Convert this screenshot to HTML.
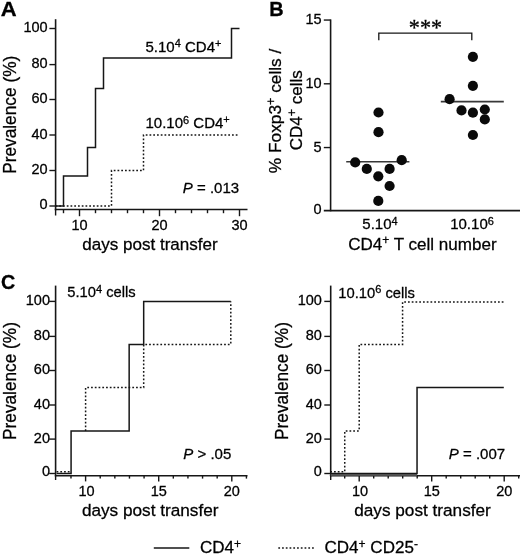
<!DOCTYPE html>
<html lang="en">
<head>
<meta charset="utf-8">
<title>Figure</title>
<style>
html,body{margin:0;padding:0;background:#fff;}
svg{display:block;filter:blur(0.35px);}
svg text{font-family:"Liberation Sans",sans-serif;fill:#000;stroke:#000;stroke-width:0.28px;white-space:pre;}
</style>
</head>
<body>
<svg width="520" height="555" viewBox="0 0 520 555" shape-rendering="auto">
<rect x="0" y="0" width="520" height="555" fill="#ffffff"/>
<text x="0" y="0" font-size="20" text-anchor="start" font-weight="bold" transform="translate(0.8,15.6) scale(1.1,1)">A</text>
<line x1="55.6" y1="19.2" x2="55.6" y2="210.2" stroke="#161616" stroke-width="1.6" />
<line x1="49.4" y1="206.0" x2="55.6" y2="206.0" stroke="#161616" stroke-width="1.4" />
<text x="47.6" y="208.6" font-size="14.5" text-anchor="end" >0</text>
<line x1="49.4" y1="170.5" x2="55.6" y2="170.5" stroke="#161616" stroke-width="1.4" />
<text x="47.6" y="174.0" font-size="14.5" text-anchor="end" >20</text>
<line x1="49.4" y1="135.0" x2="55.6" y2="135.0" stroke="#161616" stroke-width="1.4" />
<text x="47.6" y="138.5" font-size="14.5" text-anchor="end" >40</text>
<line x1="49.4" y1="99.5" x2="55.6" y2="99.5" stroke="#161616" stroke-width="1.4" />
<text x="47.6" y="103.0" font-size="14.5" text-anchor="end" >60</text>
<line x1="49.4" y1="64.6" x2="55.6" y2="64.6" stroke="#161616" stroke-width="1.4" />
<text x="47.6" y="68.1" font-size="14.5" text-anchor="end" >80</text>
<line x1="49.4" y1="28.5" x2="55.6" y2="28.5" stroke="#161616" stroke-width="1.4" />
<text x="47.6" y="32.0" font-size="14.5" text-anchor="end" >100</text>
<line x1="54.800000000000004" y1="209.5" x2="247.5" y2="209.5" stroke="#161616" stroke-width="1.6" />
<line x1="55.6" y1="209.5" x2="55.6" y2="215.5" stroke="#161616" stroke-width="1.4" />
<line x1="63.5" y1="209.5" x2="63.5" y2="213.2" stroke="#161616" stroke-width="1.4" />
<line x1="79.5" y1="209.5" x2="79.5" y2="216.2" stroke="#161616" stroke-width="1.4" />
<line x1="95.5" y1="209.5" x2="95.5" y2="213.2" stroke="#161616" stroke-width="1.4" />
<line x1="111.5" y1="209.5" x2="111.5" y2="213.2" stroke="#161616" stroke-width="1.4" />
<line x1="127.5" y1="209.5" x2="127.5" y2="213.2" stroke="#161616" stroke-width="1.4" />
<line x1="143.5" y1="209.5" x2="143.5" y2="213.2" stroke="#161616" stroke-width="1.4" />
<line x1="159.5" y1="209.5" x2="159.5" y2="216.2" stroke="#161616" stroke-width="1.4" />
<line x1="175.5" y1="209.5" x2="175.5" y2="213.2" stroke="#161616" stroke-width="1.4" />
<line x1="191.5" y1="209.5" x2="191.5" y2="213.2" stroke="#161616" stroke-width="1.4" />
<line x1="207.5" y1="209.5" x2="207.5" y2="213.2" stroke="#161616" stroke-width="1.4" />
<line x1="223.5" y1="209.5" x2="223.5" y2="213.2" stroke="#161616" stroke-width="1.4" />
<line x1="239.5" y1="209.5" x2="239.5" y2="216.2" stroke="#161616" stroke-width="1.4" />
<text x="79.5" y="229.9" font-size="14.5" text-anchor="middle" >10</text>
<text x="159.5" y="229.9" font-size="14.5" text-anchor="middle" >20</text>
<text x="239.5" y="229.9" font-size="14.5" text-anchor="middle" >30</text>
<text x="150.0" y="249.9" font-size="17.05" text-anchor="middle" >days post transfer</text>
<text x="0" y="0" font-size="17.3" text-anchor="middle" transform="translate(15.5,114.8) scale(1.05,1) rotate(-90)">Prevalence (%)</text>
<path d="M55.50 206.00 L63.50 206.00 L63.50 176.00 L87.50 176.00 L87.50 147.40 L95.50 147.40 L95.50 88.50 L103.50 88.50 L103.50 58.00 L231.50 58.00 L231.50 28.50 L239.50 28.50" fill="none" stroke="#161616" stroke-width="1.5" stroke-linejoin="miter" />
<path d="M55.50 206.00 L111.50 206.00 L111.50 170.50 L143.50 170.50 L143.50 135.00 L237.90 135.00" fill="none" stroke="#161616" stroke-width="1.5" stroke-linejoin="miter" stroke-dasharray="1.75 2.0"/>
<text x="145.5" y="51.8" font-size="15" text-anchor="start" >5.10<tspan font-size="11" dy="-4.5">4</tspan><tspan dy="4.5"> CD4</tspan><tspan font-size="11" dy="-5.3">+</tspan></text>
<text x="145.5" y="128.3" font-size="15" text-anchor="start" >10.10<tspan font-size="11" dy="-4.5">6</tspan><tspan dy="4.5"> CD4</tspan><tspan font-size="11" dy="-5.3">+</tspan></text>
<text x="182.8" y="192.5" font-size="15" text-anchor="start" ><tspan font-style="italic">P</tspan> = .013</text>
<text x="0" y="0" font-size="19.9" text-anchor="start" font-weight="bold" transform="translate(269.3,16.2) scale(1.0,1)">B</text>
<line x1="330.6" y1="19.4" x2="330.6" y2="211.3" stroke="#161616" stroke-width="1.6" />
<line x1="323.8" y1="210.6" x2="520" y2="210.6" stroke="#161616" stroke-width="1.6" />
<line x1="323.8" y1="147.55" x2="330.6" y2="147.55" stroke="#161616" stroke-width="1.4" />
<line x1="323.8" y1="83.80000000000001" x2="330.6" y2="83.80000000000001" stroke="#161616" stroke-width="1.4" />
<line x1="323.8" y1="20.05000000000001" x2="330.6" y2="20.05000000000001" stroke="#161616" stroke-width="1.4" />
<text x="321.6" y="214.4" font-size="14.5" text-anchor="end" >0</text>
<text x="321.6" y="151.65" font-size="14.5" text-anchor="end" >5</text>
<text x="321.6" y="87.9" font-size="14.5" text-anchor="end" >10</text>
<text x="321.6" y="24.150000000000013" font-size="14.5" text-anchor="end" >15</text>
<path d="M378.80 40.30 L378.80 33.10 L471.80 33.10 L471.80 40.30" fill="none" stroke="#161616" stroke-width="1.3" stroke-linejoin="miter" />
<text x="425.5" y="34.7" font-size="22.2" text-anchor="middle" style="font-family:&quot;Liberation Serif&quot;,serif">***</text>
<line x1="346.2" y1="161.8" x2="409.4" y2="161.8" stroke="#161616" stroke-width="1.6" opacity="0.85"/>
<line x1="440.8" y1="101.6" x2="503.8" y2="101.6" stroke="#161616" stroke-width="1.6" opacity="0.85"/>
<circle cx="378.5" cy="112.5" r="5.1" fill="#0a0a0a"/>
<circle cx="378.5" cy="132.2" r="5.1" fill="#0a0a0a"/>
<circle cx="355.2" cy="162.4" r="5.1" fill="#0a0a0a"/>
<circle cx="401.7" cy="160.2" r="5.1" fill="#0a0a0a"/>
<circle cx="366.8" cy="168.9" r="5.1" fill="#0a0a0a"/>
<circle cx="389.6" cy="168.9" r="5.1" fill="#0a0a0a"/>
<circle cx="378.3" cy="176.3" r="5.1" fill="#0a0a0a"/>
<circle cx="389.6" cy="186.0" r="5.1" fill="#0a0a0a"/>
<circle cx="378.3" cy="200.9" r="5.1" fill="#0a0a0a"/>
<circle cx="472.9" cy="56.8" r="5.1" fill="#0a0a0a"/>
<circle cx="472.9" cy="85.8" r="5.1" fill="#0a0a0a"/>
<circle cx="449.6" cy="99.2" r="5.1" fill="#0a0a0a"/>
<circle cx="461.5" cy="110.4" r="5.1" fill="#0a0a0a"/>
<circle cx="472.9" cy="112.7" r="5.1" fill="#0a0a0a"/>
<circle cx="484.8" cy="109.5" r="5.1" fill="#0a0a0a"/>
<circle cx="484.8" cy="119.4" r="5.1" fill="#0a0a0a"/>
<circle cx="472.9" cy="135.0" r="5.1" fill="#0a0a0a"/>
<text x="362.3" y="229.2" font-size="15" text-anchor="start" >5.10<tspan font-size="11" dy="-4.5">4</tspan></text>
<text x="450.2" y="229.2" font-size="15" text-anchor="start" >10.10<tspan font-size="11" dy="-4.5">6</tspan></text>
<text x="348.2" y="249.8" font-size="17.05" text-anchor="start" >CD4<tspan font-size="12" dy="-5.5">+</tspan><tspan dy="5.5"> T cell number</tspan></text>
<text x="281.0" y="110.9" font-size="17.3" text-anchor="middle" transform="rotate(-90 281.0 110.9)">% Foxp3<tspan font-size="12.5" dy="-5.5">+</tspan><tspan dy="5.5"> cells /</tspan></text>
<text x="301.6" y="110.3" font-size="17.0" text-anchor="middle" transform="rotate(-90 301.6 110.3)">CD4<tspan font-size="12.5" dy="-5.5">+</tspan><tspan dy="5.5"> cells</tspan></text>
<text x="0" y="0" font-size="20.4" text-anchor="start" font-weight="bold" transform="translate(1.1,289.4) scale(0.97,1)">C</text>
<line x1="55.6" y1="285.6" x2="55.6" y2="476.2" stroke="#161616" stroke-width="1.6" />
<line x1="49.2" y1="473.5" x2="55.6" y2="473.5" stroke="#161616" stroke-width="1.4" />
<text x="50.0" y="475.5" font-size="14.5" text-anchor="end" >0</text>
<line x1="49.2" y1="439.1" x2="55.6" y2="439.1" stroke="#161616" stroke-width="1.4" />
<text x="50.0" y="442.90000000000003" font-size="14.5" text-anchor="end" >20</text>
<line x1="49.2" y1="405.0" x2="55.6" y2="405.0" stroke="#161616" stroke-width="1.4" />
<text x="50.0" y="408.8" font-size="14.5" text-anchor="end" >40</text>
<line x1="49.2" y1="370.5" x2="55.6" y2="370.5" stroke="#161616" stroke-width="1.4" />
<text x="50.0" y="374.3" font-size="14.5" text-anchor="end" >60</text>
<line x1="49.2" y1="336.4" x2="55.6" y2="336.4" stroke="#161616" stroke-width="1.4" />
<text x="50.0" y="340.2" font-size="14.5" text-anchor="end" >80</text>
<line x1="49.2" y1="301.4" x2="55.6" y2="301.4" stroke="#161616" stroke-width="1.4" />
<text x="50.0" y="305.2" font-size="14.5" text-anchor="end" >100</text>
<line x1="54.800000000000004" y1="475.7" x2="247.5" y2="475.7" stroke="#161616" stroke-width="1.6" />
<line x1="55.6" y1="475.7" x2="55.6" y2="480.0" stroke="#161616" stroke-width="1.4" />
<line x1="70.97999999999999" y1="475.7" x2="70.97999999999999" y2="478.6" stroke="#161616" stroke-width="1.4" />
<line x1="85.6" y1="475.7" x2="85.6" y2="481.4" stroke="#161616" stroke-width="1.4" />
<line x1="100.22" y1="475.7" x2="100.22" y2="478.6" stroke="#161616" stroke-width="1.4" />
<line x1="114.83999999999999" y1="475.7" x2="114.83999999999999" y2="478.6" stroke="#161616" stroke-width="1.4" />
<line x1="129.45999999999998" y1="475.7" x2="129.45999999999998" y2="478.6" stroke="#161616" stroke-width="1.4" />
<line x1="144.07999999999998" y1="475.7" x2="144.07999999999998" y2="478.6" stroke="#161616" stroke-width="1.4" />
<line x1="158.7" y1="475.7" x2="158.7" y2="481.4" stroke="#161616" stroke-width="1.4" />
<line x1="173.32" y1="475.7" x2="173.32" y2="478.6" stroke="#161616" stroke-width="1.4" />
<line x1="187.94" y1="475.7" x2="187.94" y2="478.6" stroke="#161616" stroke-width="1.4" />
<line x1="202.56" y1="475.7" x2="202.56" y2="478.6" stroke="#161616" stroke-width="1.4" />
<line x1="217.17999999999998" y1="475.7" x2="217.17999999999998" y2="478.6" stroke="#161616" stroke-width="1.4" />
<line x1="231.79999999999998" y1="475.7" x2="231.79999999999998" y2="481.4" stroke="#161616" stroke-width="1.4" />
<line x1="246.42" y1="475.7" x2="246.42" y2="478.6" stroke="#161616" stroke-width="1.4" />
<text x="86.5" y="495.5" font-size="14.5" text-anchor="middle" >10</text>
<text x="158.7" y="495.5" font-size="14.5" text-anchor="middle" >15</text>
<text x="231.79999999999998" y="495.5" font-size="14.5" text-anchor="middle" >20</text>
<text x="150.2" y="515.9" font-size="17.2" text-anchor="middle" >days post transfer</text>
<text x="0" y="0" font-size="17.25" text-anchor="middle" transform="translate(15.5,381.0) scale(1.05,1) rotate(-90)">Prevalence (%)</text>
<path d="M56.56 471.70 L71.08 471.70" fill="none" stroke="#161616" stroke-width="1.5" stroke-linejoin="miter" stroke-dasharray="1.75 2.0"/>
<path d="M85.60 430.90 L85.60 387.60 L143.68 387.60 L143.68 344.40 L230.80 344.40 L230.80 301.40" fill="none" stroke="#161616" stroke-width="1.5" stroke-linejoin="miter" stroke-dasharray="1.75 2.0"/>
<path d="M56.56 473.50 L71.08 473.50 L71.08 430.90 L129.16 430.90 L129.16 344.40 L143.68 344.40 L143.68 301.40 L230.80 301.40" fill="none" stroke="#161616" stroke-width="1.5" stroke-linejoin="miter" />
<text x="67.2" y="297.2" font-size="14.75" text-anchor="start" >5.10<tspan font-size="11" dy="-4.5">4</tspan><tspan dy="4.5"> cells</tspan></text>
<text x="183.3" y="458.8" font-size="15" text-anchor="start" ><tspan font-style="italic">P</tspan> &gt; .05</text>
<line x1="330.7" y1="285.6" x2="330.7" y2="476.2" stroke="#161616" stroke-width="1.6" />
<line x1="324.3" y1="473.5" x2="330.7" y2="473.5" stroke="#161616" stroke-width="1.4" />
<text x="321.9" y="475.5" font-size="14.5" text-anchor="end" >0</text>
<line x1="324.3" y1="439.1" x2="330.7" y2="439.1" stroke="#161616" stroke-width="1.4" />
<text x="321.9" y="442.90000000000003" font-size="14.5" text-anchor="end" >20</text>
<line x1="324.3" y1="405.0" x2="330.7" y2="405.0" stroke="#161616" stroke-width="1.4" />
<text x="321.9" y="408.8" font-size="14.5" text-anchor="end" >40</text>
<line x1="324.3" y1="370.5" x2="330.7" y2="370.5" stroke="#161616" stroke-width="1.4" />
<text x="321.9" y="374.3" font-size="14.5" text-anchor="end" >60</text>
<line x1="324.3" y1="336.4" x2="330.7" y2="336.4" stroke="#161616" stroke-width="1.4" />
<text x="321.9" y="340.2" font-size="14.5" text-anchor="end" >80</text>
<line x1="324.3" y1="301.4" x2="330.7" y2="301.4" stroke="#161616" stroke-width="1.4" />
<text x="321.9" y="305.2" font-size="14.5" text-anchor="end" >100</text>
<line x1="329.9" y1="475.7" x2="520" y2="475.7" stroke="#161616" stroke-width="1.6" />
<line x1="330.7" y1="475.7" x2="330.7" y2="480.0" stroke="#161616" stroke-width="1.4" />
<line x1="344.7" y1="475.7" x2="344.7" y2="478.6" stroke="#161616" stroke-width="1.4" />
<line x1="359.2" y1="475.7" x2="359.2" y2="481.4" stroke="#161616" stroke-width="1.4" />
<line x1="373.7" y1="475.7" x2="373.7" y2="478.6" stroke="#161616" stroke-width="1.4" />
<line x1="388.2" y1="475.7" x2="388.2" y2="478.6" stroke="#161616" stroke-width="1.4" />
<line x1="402.7" y1="475.7" x2="402.7" y2="478.6" stroke="#161616" stroke-width="1.4" />
<line x1="417.2" y1="475.7" x2="417.2" y2="478.6" stroke="#161616" stroke-width="1.4" />
<line x1="431.7" y1="475.7" x2="431.7" y2="481.4" stroke="#161616" stroke-width="1.4" />
<line x1="446.2" y1="475.7" x2="446.2" y2="478.6" stroke="#161616" stroke-width="1.4" />
<line x1="460.7" y1="475.7" x2="460.7" y2="478.6" stroke="#161616" stroke-width="1.4" />
<line x1="475.2" y1="475.7" x2="475.2" y2="478.6" stroke="#161616" stroke-width="1.4" />
<line x1="489.7" y1="475.7" x2="489.7" y2="478.6" stroke="#161616" stroke-width="1.4" />
<line x1="504.2" y1="475.7" x2="504.2" y2="481.4" stroke="#161616" stroke-width="1.4" />
<line x1="518.7" y1="475.7" x2="518.7" y2="478.6" stroke="#161616" stroke-width="1.4" />
<text x="360.09999999999997" y="495.5" font-size="14.5" text-anchor="middle" >10</text>
<text x="431.7" y="495.5" font-size="14.5" text-anchor="middle" >15</text>
<text x="504.2" y="495.5" font-size="14.5" text-anchor="middle" >20</text>
<text x="422.5" y="515.9" font-size="17.2" text-anchor="middle" >days post transfer</text>
<text x="0" y="0" font-size="17.25" text-anchor="middle" transform="translate(288.3,381.0) scale(1.05,1) rotate(-90)">Prevalence (%)</text>
<rect x="330.7" y="473.5" width="86.34" height="2.20" fill="#666"/>
<path d="M330.28 471.70 L344.74 471.70 L344.74 430.90 L359.20 430.90 L359.20 344.40 L402.58 344.40 L402.58 301.90 L503.80 301.90" fill="none" stroke="#161616" stroke-width="1.5" stroke-linejoin="miter" stroke-dasharray="1.75 2.0"/>
<path d="M330.28 473.50 L417.04 473.50 L417.04 387.60 L503.80 387.60" fill="none" stroke="#161616" stroke-width="1.5" stroke-linejoin="miter" />
<text x="338.3" y="297.6" font-size="14.75" text-anchor="start" >10.10<tspan font-size="11" dy="-4.5">6</tspan><tspan dy="4.5"> cells</tspan></text>
<text x="448.8" y="458.8" font-size="15" text-anchor="start" ><tspan font-style="italic">P</tspan> = .007</text>
<line x1="153.8" y1="547.9" x2="189.3" y2="547.9" stroke="#161616" stroke-width="1.5" />
<text x="200" y="553.0" font-size="17.05" text-anchor="start" >CD4<tspan font-size="12" dy="-5.5">+</tspan></text>
<line x1="278.3" y1="547.9" x2="313.8" y2="547.9" stroke="#161616" stroke-width="1.5" stroke-dasharray="1.75 2.0"/>
<text x="324.5" y="553.0" font-size="17.05" text-anchor="start" >CD4<tspan font-size="12" dy="-5.5">+</tspan><tspan dy="5.5"> CD25</tspan><tspan font-size="12" dy="-5.5">-</tspan></text>
</svg>
</body>
</html>
